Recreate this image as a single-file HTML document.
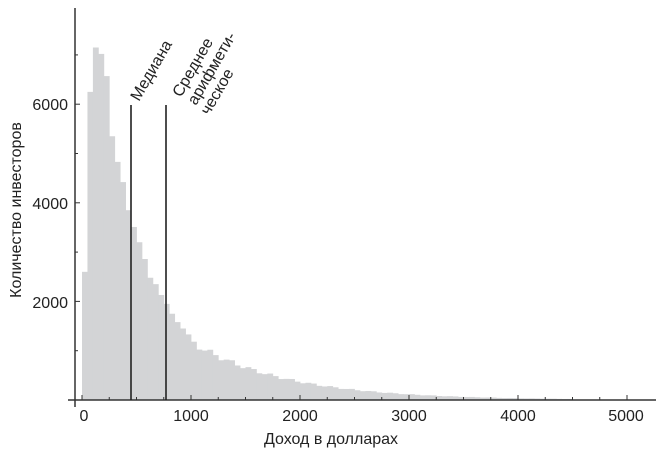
<!DOCTYPE html>
<html><head><meta charset="utf-8"><style>
body{margin:0;background:#fff}
svg{display:block;font-family:"Liberation Sans",sans-serif;fill:#222}
</style></head><body>
<svg id="s" width="661" height="454" viewBox="0 0 661 454" xmlns="http://www.w3.org/2000/svg">
<g id="bars" fill="#d3d4d6"></g>
<line x1="75" y1="8" x2="75" y2="407" stroke="#333" stroke-width="1.5"/>
<line x1="68" y1="400" x2="656" y2="400" stroke="#333" stroke-width="1.5"/>
<g id="ticks" stroke="#333" stroke-width="1"></g>
<g font-size="16" text-anchor="end">
<text x="68" y="110">6000</text><text x="68" y="209">4000</text><text x="68" y="308">2000</text>
</g>
<g font-size="16" text-anchor="middle">
<text x="84" y="421">0</text><text x="191" y="421">1000</text><text x="300" y="421">2000</text>
<text x="409" y="421">3000</text><text x="518" y="421">4000</text><text x="626" y="421">5000</text>
</g>
<text x="331" y="444" font-size="16" text-anchor="middle">Доход в долларах</text>
<text transform="translate(21,210) rotate(-90)" font-size="16" text-anchor="middle">Количество инвесторов</text>
<line x1="131" y1="105" x2="131" y2="400" stroke="#222" stroke-width="1.6"/>
<line x1="166" y1="105" x2="166" y2="400" stroke="#222" stroke-width="1.6"/>
<g font-size="16">
<text transform="translate(139,102) rotate(-60)">Медиана</text>
<text transform="translate(181,98) rotate(-60)">Среднее</text>
<text transform="translate(196,106) rotate(-60)">арифмети-</text>
<text transform="translate(209,116) rotate(-60)">ческое</text>
</g>
</svg>
<script>
var x0=82,sx=545/5000,y0=400,sy=49.3/1000;
var v=[2600,6250,7150,7020,6570,5350,4830,4420,3850,3510,3200,2860,2480,2350,2130,1950,1750,1580,1450,1330];
for(var i=20;i<90;i++){var c=i*50+25;var n=1180*Math.exp(-(c-1000)/860);n*=1+0.06*Math.sin(i*1.7);v.push(Math.max(n,i>86?0:8));}
var g=document.getElementById('bars'),h='';
for(var i=0;i<v.length;i++){var x=x0+i*50*sx,hh=v[i]*sy;h+='<rect x="'+x.toFixed(2)+'" y="'+(y0-hh).toFixed(2)+'" width="'+(50*sx+0.4).toFixed(2)+'" height="'+hh.toFixed(2)+'"/>';}
g.innerHTML=h;
var t='';
for(var k=0;k<=5000;k+=250){var x=x0+k*sx;t+='<line x1="'+x+'" y1="400" x2="'+x+'" y2="'+(k%1000?397:395)+'"/>';}
for(var k=1000;k<=7000;k+=1000){var y=y0-k*sy;t+='<line x1="75" y1="'+y+'" x2="'+(k%2000?78:80)+'" y2="'+y+'"/>';}
document.getElementById('ticks').innerHTML=t;
</script>
</body></html>
